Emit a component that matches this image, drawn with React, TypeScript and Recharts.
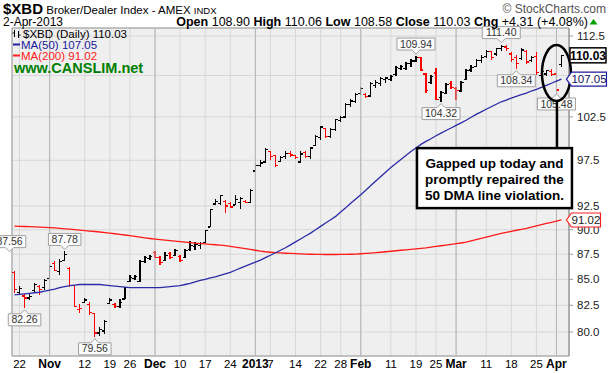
import React from 'react';
import {
  ComposedChart, Bar, Line, XAxis, YAxis, CartesianGrid,
  ReferenceLine, ReferenceArea, ReferenceDot,
} from 'recharts';

const FONT = "'Liberation Sans', Arial, Helvetica, sans-serif";

// trading days (MM/DD), Oct 19 2012 .. Apr 2 2013
const dates = [
  '10/19','10/22','10/23','10/24','10/25','10/26','10/31','11/01','11/02','11/05',
  '11/06','11/07','11/08','11/09','11/12','11/13','11/14','11/15','11/16','11/19',
  '11/20','11/21','11/23','11/26','11/27','11/28','11/29','11/30','12/03','12/04',
  '12/05','12/06','12/07','12/10','12/11','12/12','12/13','12/14','12/17','12/18',
  '12/19','12/20','12/21','12/24','12/26','12/27','12/28','12/31','01/02','01/03',
  '01/04','01/07','01/08','01/09','01/10','01/11','01/14','01/15','01/16','01/17',
  '01/18','01/22','01/23','01/24','01/25','01/28','01/29','01/30','01/31','02/01',
  '02/04','02/05','02/06','02/07','02/08','02/11','02/12','02/13','02/14','02/15',
  '02/19','02/20','02/21','02/22','02/25','02/26','02/27','02/28','03/01','03/04',
  '03/05','03/06','03/07','03/08','03/11','03/12','03/13','03/14','03/15','03/18',
  '03/19','03/20','03/21','03/22','03/25','03/26','03/27','03/28','04/01','04/02',
];
const padDate = '04/03';

const opens = [
  85.7,83.7,83.4,83.2,83.9,84.3,84.2,85.1,86.6,85.8,
  86.9,86.1,84.4,82.1,82.8,82.6,81.7,79.9,80.1,82.7,
  82.6,82.4,83.1,84.8,85.1,84.8,86.8,87.1,87.7,87.2,
  86.9,87.6,87.4,87.3,87.2,88.0,88.3,88.4,88.7,90.3,
  92.7,92.8,93.0,92.8,92.6,92.9,93.0,92.9,96.3,96.9,
  97.3,98.5,98.0,97.4,97.9,98.3,98.0,97.3,98.4,97.9,
  99.2,100.1,101.1,100.2,101.0,102.1,102.5,104.0,104.3,105.3,
  105.2,105.0,106.3,106.5,107.0,107.0,107.6,108.4,108.4,109.0,
  109.3,109.8,107.7,106.6,107.8,104.8,105.3,106.5,105.9,105.6,
  107.0,108.2,108.6,109.4,109.9,110.5,110.2,110.9,111.1,110.2,
  109.8,109.6,110.5,109.4,109.9,107.5,107.7,108.0,107.7,108.90,
];
const highs = [
  85.8,84.4,83.6,83.6,84.6,84.5,85.0,86.4,86.8,87.0,
  87.78,86.2,84.5,82.6,83.2,82.8,81.8,80.5,81.1,83.2,
  82.7,83.1,84.3,85.4,85.4,86.9,87.3,87.4,87.8,87.3,
  87.7,87.7,88.0,87.4,88.0,88.8,88.7,88.7,90.0,92.2,
  93.3,93.7,93.1,92.9,93.7,93.5,93.1,94.3,97.1,97.5,
  98.9,98.6,98.1,98.0,98.5,98.5,98.1,98.5,98.5,99.0,
  100.4,101.4,101.2,101.2,102.3,102.6,104.2,104.6,105.3,106.1,
  105.4,106.7,106.9,107.3,107.3,107.6,108.7,108.8,109.2,109.6,
  109.94,109.85,107.8,107.6,108.4,105.6,106.6,106.8,106.1,106.8,
  108.3,108.8,109.6,110.1,110.7,110.6,111.0,111.40,111.3,110.4,
  110.1,111.0,110.7,110.0,110.4,108.2,108.2,108.3,107.9,110.06,
];
const lows = [
  83.7,83.5,82.26,83.0,83.8,83.5,84.0,85.0,85.8,85.4,
  86.8,84.3,82.3,81.8,82.7,81.6,79.56,79.6,79.8,82.6,
  82.2,82.2,83.1,84.7,84.9,84.7,86.6,86.9,87.1,86.4,
  86.8,87.0,87.3,86.7,87.1,87.8,87.9,88.0,88.6,90.3,
  92.6,92.6,91.8,92.3,92.6,92.2,92.8,92.8,96.3,96.8,
  97.2,97.5,96.8,97.3,97.7,97.9,97.6,97.2,97.8,97.6,
  99.1,99.8,100.0,100.0,100.9,101.9,102.4,103.7,104.1,105.1,
  104.8,104.9,106.0,106.2,106.6,106.8,107.5,108.2,108.2,108.6,
  109.2,108.1,105.4,106.4,104.5,104.32,105.2,105.8,104.5,105.5,
  106.9,107.9,108.5,109.1,109.7,109.4,110.0,110.6,110.6,109.2,
  108.34,109.4,108.9,109.2,107.6,107.2,107.5,107.4,105.48,108.58,
];
const closes = [
  84.0,84.1,83.2,83.35,84.5,84.0,84.9,86.3,85.9,86.8,
  87.5,84.4,82.4,82.2,83.0,81.8,79.9,80.2,81.0,83.0,
  82.4,82.8,84.2,85.2,85.3,86.8,87.2,87.3,87.2,86.7,
  87.4,87.2,87.9,86.9,87.9,88.4,88.5,88.6,89.9,92.1,
  93.0,93.6,92.5,92.4,93.2,93.3,92.9,94.2,96.9,97.2,
  98.7,97.9,96.9,97.8,98.3,98.1,97.8,98.2,97.9,98.9,
  100.2,101.3,100.2,101.0,102.2,102.4,104.0,104.4,105.2,105.9,
  104.9,106.5,106.6,107.1,107.2,107.4,108.5,108.6,109.0,109.3,
  109.8,108.2,105.7,107.4,104.6,105.4,106.4,106.0,105.7,106.6,
  108.1,108.5,109.4,109.8,110.5,109.8,110.9,111.2,110.9,109.5,
  109.0,110.7,109.2,109.8,107.9,108.0,108.1,107.6,105.72,110.03,
];
const closeBeforeFirst = 86.6;

const ma50 = [
  83.5,83.55,83.6,83.65,83.7,83.75,83.85,83.95,84.05,84.2,
  84.3,84.4,84.45,84.5,84.5,84.5,84.5,84.5,84.45,84.4,
  84.35,84.3,84.25,84.2,84.2,84.2,84.2,84.2,84.2,84.2,
  84.25,84.3,84.35,84.4,84.5,84.6,84.75,84.9,85.0,85.15,
  85.25,85.4,85.55,85.7,85.9,86.1,86.3,86.5,86.7,86.9,
  87.15,87.4,87.65,87.9,88.15,88.45,88.75,89.05,89.35,89.65,
  90.0,90.35,90.7,91.05,91.4,91.85,92.3,92.8,93.25,93.7,
  94.2,94.7,95.2,95.7,96.2,96.7,97.15,97.6,98.05,98.5,
  98.9,99.3,99.65,99.95,100.3,100.6,100.9,101.2,101.5,101.8,
  102.1,102.45,102.8,103.1,103.4,103.7,104.0,104.3,104.5,104.75,
  104.95,105.15,105.35,105.6,105.8,106.05,106.3,106.55,106.8,107.05,
];
const ma200 = [
  90.38,90.36,90.34,90.32,90.3,90.28,90.25,90.22,90.19,90.15,
  90.1,90.06,90.02,89.97,89.92,89.87,89.82,89.77,89.71,89.65,
  89.59,89.53,89.46,89.39,89.32,89.25,89.17,89.1,89.04,88.98,
  88.93,88.88,88.83,88.78,88.73,88.68,88.63,88.58,88.54,88.5,
  88.46,88.42,88.37,88.3,88.22,88.14,88.06,87.98,87.9,87.82,
  87.75,87.7,87.66,87.63,87.6,87.58,87.56,87.54,87.52,87.5,
  87.49,87.48,87.47,87.47,87.47,87.48,87.49,87.5,87.52,87.55,
  87.58,87.62,87.66,87.7,87.75,87.8,87.85,87.9,87.95,88.0,
  88.05,88.1,88.15,88.22,88.29,88.36,88.43,88.5,88.57,88.64,
  88.72,88.85,88.98,89.11,89.24,89.37,89.5,89.62,89.73,89.84,
  89.95,90.05,90.15,90.27,90.4,90.53,90.66,90.78,90.9,91.02,
];

const tickDates = ['10/22','11/01','11/12','11/19','11/26','12/03','12/10','12/17','12/24','01/02','01/07','01/14','01/22','01/28','02/01','02/11','02/19','02/25','03/01','03/11','03/18','03/25','04/01'];
const tickLabels = ['22','Nov','12','19','26','Dec','10','17','24','2013','7','14','22','28','Feb','11','19','25','Mar','11','18','25','Apr'];
const monthTicks = ['11/01','12/03','01/02','02/01','03/01','04/01'];

const yTicks = [80, 82.5, 85, 87.5, 90, 92.5, 95, 97.5, 100, 102.5, 105, 107.5, 110, 112.5];
const Y_MIN = 77.82;
const Y_MAX = 113.55;

// swing-point price labels
const labelDates = ['10/19','11/06','10/23','11/14','02/19','02/26','03/14','03/19','04/01'];
const labelValues = [87.56, 87.78, 82.26, 79.56, 109.94, 104.32, 111.40, 108.34, 105.48];
const labelShift = [-1, 0, 0, 0, 0, 0, 0, 0, 0]; // in trading days (first one is Oct 18)

const noteLines = ['Gapped up today and', 'promptly repaired the', '50 DMA line violation.'];
const noteDate = '04/01';
const noteValue = 107.8;

const rows: any[] = dates.map((d, i) => ({
  date: d,
  open: opens[i],
  high: highs[i],
  low: lows[i],
  close: closes[i],
  prev: i === 0 ? closeBeforeFirst : closes[i - 1],
  range: [lows[i], highs[i]],
  ma50: ma50[i],
  ma200: ma200[i],
}));
rows.push({ date: padDate });

const last = dates.length - 1;
const lastDate = dates[last];

const OhlcShape = (props: any) => {
  const { x, y, width, height, payload } = props;
  if (!payload || payload.high == null || x == null) return null;
  const top = Math.min(y, y + height);
  const h = Math.abs(height);
  const cx = x + width / 2;
  const lh = Math.log(payload.high);
  const ll = Math.log(payload.low);
  const span = lh - ll || 1;
  const yo = top + (h * (lh - Math.log(payload.open))) / span;
  const yc = top + (h * (lh - Math.log(payload.close))) / span;
  const color = payload.close < payload.prev ? '#ff0000' : '#000000';
  return (
    <g stroke={color} strokeWidth={1.3} shapeRendering="crispEdges">
      <line x1={cx} x2={cx} y1={top} y2={top + Math.max(h, 1)} />
      <line x1={cx - 2.5} x2={cx} y1={yo} y2={yo} />
      <line x1={cx} x2={cx + 2.5} y1={yc} y2={yc} />
    </g>
  );
};

const PriceTag = ({ cx, cy, text, above, dx }: any) => {
  if (cx == null || cy == null) return null;
  const x = cx + dx;
  const w = text.length * 5.5 + 5;
  const h = 12;
  let d = '';
  let mid = 0;
  if (above) {
    const tip = cy - 2;
    const bb = tip - 4;
    const bt = bb - h;
    d = `M${x - w / 2},${bt} H${x + w / 2} V${bb} H${x + 4} L${x},${tip} L${x - 4},${bb} H${x - w / 2} Z`;
    mid = (bt + bb) / 2;
  } else {
    const tip = cy + 2;
    const bt = tip + 4;
    const bb = bt + h;
    d = `M${x - w / 2},${bt} H${x - 4} L${x},${tip} L${x + 4},${bt} H${x + w / 2} V${bb} H${x - w / 2} Z`;
    mid = (bt + bb) / 2;
  }
  return (
    <g>
      <path d={d} fill="#fbfbfb" stroke="#a0a0a0" strokeWidth={1} />
      <text x={x} y={mid} dy={3.6} textAnchor="middle" fontSize={10.5} fontFamily={FONT} fill="#333">{text}</text>
    </g>
  );
};

const CloseTag = ({ cx, cy, text }: any) => {
  if (cx == null || cy == null) return null;
  const x = cx + 8.5;
  return (
    <g>
      <rect x={x} y={cy - 7.5} width={36} height={15} fill="#fff" stroke="#000" strokeWidth={1.5} />
      <text x={x + 18} y={cy} dy={4.2} textAnchor="middle" fontSize={12} fontWeight="bold" fontFamily={FONT} fill="#000">{text}</text>
    </g>
  );
};

const MaTag = ({ cx, cy, text, color, textColor, w }: any) => {
  if (cx == null || cy == null) return null;
  const x0 = cx + 5;
  const d = `M${x0},${cy} L${x0 + 5},${cy - 7} H${x0 + w} V${cy + 7} H${x0 + 5} Z`;
  return (
    <g>
      <path d={d} fill="#fff" stroke={color} strokeWidth={1.2} />
      <text x={x0 + 5 + (w - 5) / 2} y={cy} dy={4} textAnchor="middle" fontSize={11.5} fontFamily={FONT} fill={textColor}>{text}</text>
    </g>
  );
};

const Note = ({ cx, cy }: any) => {
  if (cx == null || cy == null) return null;
  const bx = cx - 139.5;
  const by = cy + 75;
  return (
    <g>
      <line x1={cx + 0.5} y1={cy + 28} x2={cx + 0.5} y2={by} stroke="#000" strokeWidth={2.5} />
      <ellipse cx={cx} cy={cy} rx={14.5} ry={28} fill="none" stroke="#000" strokeWidth={2.5} />
      <rect x={bx} y={by} width={155} height={60} fill="#fff" stroke="#000" strokeWidth={2.5} />
      {noteLines.map((t, k) => (
        <text key={k} x={bx + 77.5} y={by + 15 + k * 16} dy={4.8} textAnchor="middle" fontSize={13.5} fontWeight="bold" fontFamily={FONT} fill="#000">{t}</text>
      ))}
    </g>
  );
};

const XTick = (props: any) => {
  const { x, y, payload } = props;
  const k = tickDates.indexOf(payload.value);
  if (k < 0) return null;
  const bold = monthTicks.includes(payload.value);
  return (
    <text x={x} y={y} dy={9} textAnchor="middle" fontSize={bold ? 12 : 11.5} fontWeight={bold ? 'bold' : 'normal'} fontFamily={FONT} fill="#000">
      {tickLabels[k]}
    </text>
  );
};

const YTick = (props: any) => {
  const { x, y, payload } = props;
  return (
    <text x={x} y={y} dy={4} textAnchor="start" fontSize={11.5} fontFamily={FONT} fill="#222">
      {Number(payload.value).toFixed(1)}
    </text>
  );
};

export default function App() {
  const chg = closes[last] - closes[last - 1];
  const chgPct = (chg / closes[last - 1]) * 100;
  return (
    <div style={{ position: 'absolute', left: 0, top: 0, width: 610, height: 373, background: '#fff', fontFamily: FONT }}>
      <ComposedChart width={610} height={373} data={rows} margin={{ top: 28, right: 0, bottom: 0, left: 12 }} barCategoryGap={0}>
        <CartesianGrid fill="#efefef" fillOpacity={1} stroke="#d7d7d7" />
        <XAxis dataKey="date" type="category" ticks={tickDates} interval={0} tick={<XTick />} tickLine={false} axisLine={false} height={17} tickSize={0} tickMargin={3} />
        <YAxis orientation="right" scale="log" domain={[Y_MIN, Y_MAX]} allowDataOverflow ticks={yTicks} width={41} tick={<YTick />} tickSize={4} tickMargin={4} tickLine={{ stroke: '#9a9a9a' }} axisLine={{ stroke: '#9a9a9a' }} />
        {monthTicks.map((d) => (
          <ReferenceLine key={d} x={d} stroke="#b4b4b4" strokeWidth={1} />
        ))}
        <ReferenceArea y1={Y_MIN} y2={Y_MAX} fill="none" stroke="#9a9a9a" strokeWidth={1} />
        <Line dataKey="ma200" stroke="#ff1a1a" strokeWidth={1.3} dot={false} activeDot={false} isAnimationActive={false} />
        <Line dataKey="ma50" stroke="#2b2ba6" strokeWidth={1.3} dot={false} activeDot={false} isAnimationActive={false} />
        <Bar dataKey="range" shape={OhlcShape} isAnimationActive={false} />
        {labelDates.map((d, k) => {
          const row = rows.find((r) => r.date === d);
          const above = !!row && labelValues[k] >= row.high - 1e-9;
          return (
            <ReferenceDot key={'l' + k} x={d} y={labelValues[k]} r={2} ifOverflow="visible"
              shape={(p: any) => <PriceTag {...p} text={labelValues[k].toFixed(2)} above={above} dx={labelShift[k] * 5} />} />
          );
        })}
        <ReferenceDot x={noteDate} y={noteValue} r={2} ifOverflow="visible" shape={(p: any) => <Note {...p} />} />
        <ReferenceDot x={lastDate} y={ma200[last]} r={2} ifOverflow="visible" zIndex={2000}
          shape={(p: any) => <MaTag {...p} text={ma200[last].toFixed(2)} color="#ff2020" textColor="#222" w={34} />} />
        <ReferenceDot x={lastDate} y={ma50[last]} r={2} ifOverflow="visible" zIndex={2000}
          shape={(p: any) => <MaTag {...p} text={ma50[last].toFixed(2)} color="#2020a0" textColor="#101060" w={40} />} />
        <ReferenceDot x={lastDate} y={closes[last]} r={2} ifOverflow="visible" zIndex={2000}
          shape={(p: any) => <CloseTag {...p} text={closes[last].toFixed(2)} />} />
      </ComposedChart>

      <svg width={610} height={373} style={{ position: 'absolute', left: 0, top: 0, pointerEvents: 'none' }} fontFamily={FONT}>
        <text x={3} y={13.5} fill="#000">
          <tspan fontSize={15} fontWeight="bold">$XBD</tspan>
          <tspan fontSize={11.5}> Broker/Dealer Index - AMEX </tspan>
          <tspan fontSize={9.5}>INDX</tspan>
        </text>
        <text x={606} y={12.5} textAnchor="end" fontSize={12} fill="#555">© StockCharts.com</text>
        <text x={3} y={26} fontSize={12} fill="#000">2-Apr-2013</text>
        <text x={588} y={26} textAnchor="end" fontSize={12.5} fill="#000">
          <tspan fontWeight="bold">Open</tspan><tspan> {opens[last].toFixed(2)} </tspan>
          <tspan fontWeight="bold">High</tspan><tspan> {highs[last].toFixed(2)} </tspan>
          <tspan fontWeight="bold">Low</tspan><tspan> {lows[last].toFixed(2)} </tspan>
          <tspan fontWeight="bold">Close</tspan><tspan> {closes[last].toFixed(2)} </tspan>
          <tspan fontWeight="bold">Chg</tspan><tspan> +{chg.toFixed(2)} (+{chgPct.toFixed(2)}%)</tspan>
        </text>
        <polygon points="589.5,24.5 597.5,24.5 593.5,19" fill="#00a000" />

        <g stroke="#000" strokeWidth={1}>
          <line x1={14.5} y1={30} x2={14.5} y2={37} />
          <line x1={12.5} y1={33} x2={14.5} y2={33} />
          <line x1={18.5} y1={31} x2={18.5} y2={38} />
          <line x1={18.5} y1={35} x2={20.5} y2={35} />
        </g>
        <text x={23} y={37.5} fontSize={11.5} fill="#000">$XBD (Daily) {closes[last].toFixed(2)}</text>
        <line x1={13} y1={44.5} x2={20} y2={44.5} stroke="#2020a0" strokeWidth={2} />
        <text x={21} y={48.5} fontSize={11.5} fill="#1a1a9a">MA(50) {ma50[last].toFixed(2)}</text>
        <line x1={13} y1={55.5} x2={20} y2={55.5} stroke="#ff2020" strokeWidth={2} />
        <text x={21} y={59.5} fontSize={11.5} fill="#ff1a1a">MA(200) {ma200[last].toFixed(2)}</text>
        <text x={14} y={73} fontSize={14.5} fontWeight="bold" fill="#008000">www.CANSLIM.net</text>
      </svg>
    </div>
  );
}
